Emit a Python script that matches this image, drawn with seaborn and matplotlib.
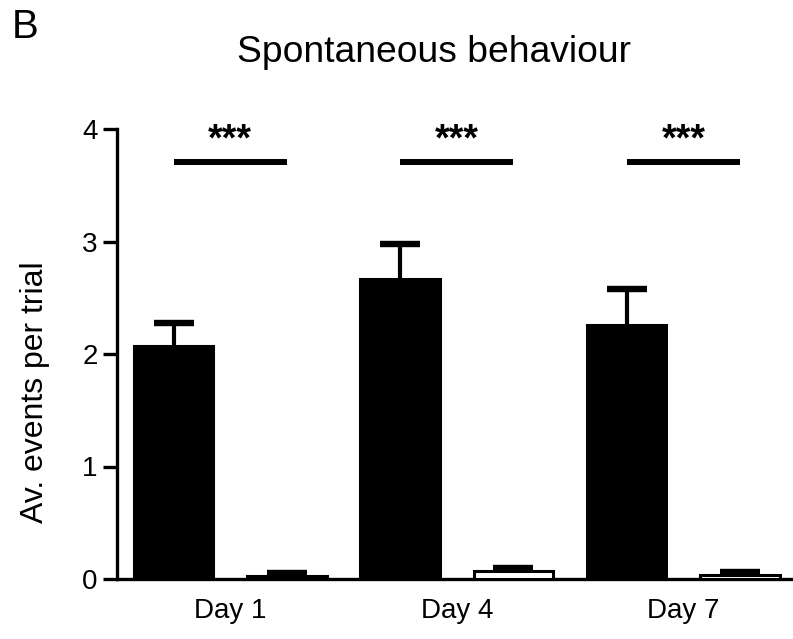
import matplotlib
matplotlib.use("Agg")
import matplotlib.pyplot as plt
import seaborn as sns
import pandas as pd

# Average events per trial for each test day
days = ["Day 1", "Day 4", "Day 7"]
groups = ["Condition 1", "Condition 2"]
mean_cond1 = [2.07, 2.67, 2.26]
sem_cond1 = [0.21, 0.31, 0.32]
mean_cond2 = [0.03, 0.07, 0.04]
sem_cond2 = [0.02, 0.03, 0.02]
significance = ["***", "***", "***"]
y_ticks = [0, 1, 2, 3, 4]

sns.set_theme(style="ticks")
plt.rcParams["font.family"] = ["Liberation Sans", "DejaVu Sans"]
plt.rcParams.update({"text.color": "black", "axes.labelcolor": "black",
                     "xtick.color": "black", "ytick.color": "black"})

df = pd.DataFrame({
    "day": days * 2,
    "group": [groups[0]] * 3 + [groups[1]] * 3,
    "value": mean_cond1 + mean_cond2,
})

fig = plt.figure(figsize=(7.93, 6.39), dpi=100)
ax = fig.add_axes([117 / 793, 60 / 639, (792 - 117) / 793, 450 / 639])

sns.barplot(data=df, x="day", y="value", hue="group", order=days,
            hue_order=groups, palette=["black", "white"], width=1.0,
            gap=0.3, errorbar=None, edgecolor="black", linewidth=2.2,
            legend=False, ax=ax, zorder=3)

# Upper-only error bars: stem from bar top plus a cap at the end
errs = [sem_cond1, sem_cond2]
centers = []
for container, err in zip(ax.containers, errs):
    xs = [p.get_x() + p.get_width() / 2 for p in container]
    hs = [p.get_height() for p in container]
    tops = [h + e for h, e in zip(hs, err)]
    centers.append(xs)
    ax.vlines(xs, hs, tops, colors="black", linewidth=3, zorder=2)
    ax.plot(xs, tops, linestyle="none", marker="_", markersize=29,
            markeredgewidth=4.6, color="black", zorder=2)

# Significance brackets between the two groups on each day
for i, star in enumerate(significance):
    x0, x1 = centers[0][i], centers[1][i]
    ax.plot([x0, x1], [3.71, 3.71], color="black", lw=4.3,
            solid_capstyle="butt", zorder=4)
    ax.text((x0 + x1) / 2, 3.735, star, ha="center", va="bottom",
            fontsize=27, fontweight="bold")

ax.set_ylim(0, 4)
ax.set_xlim(-0.5, 2.48)
ax.set_yticks(y_ticks)
ax.set_yticklabels([str(t) for t in y_ticks])
ax.tick_params(axis="y", length=10, width=2.4, labelsize=20, pad=4)
ax.tick_params(axis="x", length=0, labelsize=20, pad=14)
ax.set_xlabel("")
ax.set_ylabel("")
for side in ["top", "right"]:
    ax.spines[side].set_visible(False)
for side in ["left", "bottom"]:
    ax.spines[side].set_linewidth(2.4)
    ax.spines[side].set_color("black")
ax.set_facecolor("white")

fig.text(35 / 793, 1 - 392 / 639, "Av. events per trial", rotation=90,
         ha="center", va="center", fontsize=23)
fig.text(434 / 793, 1 - 62 / 639, "Spontaneous behaviour", ha="center",
         va="baseline", fontsize=26.8)
fig.text(12 / 793, 1 - 38 / 639, "B", ha="left", va="baseline", fontsize=29)

fig.savefig("out.png", dpi=100, facecolor="white")
